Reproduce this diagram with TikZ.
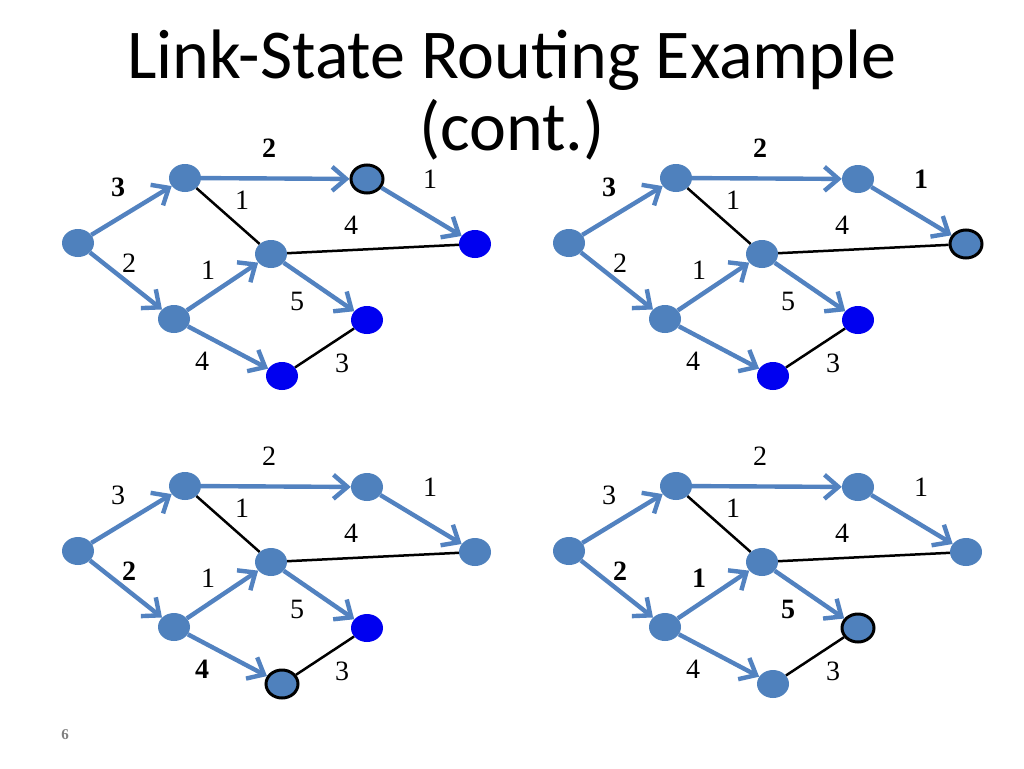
\documentclass[tikz,border=0pt]{standalone}
\usepackage{fontspec}
\usetikzlibrary{shapes.geometric,arrows.meta}
\newfontfamily\titlefont{Carlito}
\newfontfamily\wfont{Liberation Serif}
\definecolor{nodeblue}{HTML}{4F81BD}
\definecolor{arrowblue}{HTML}{5282C0}
\definecolor{pureblue}{HTML}{0000F0}
\begin{document}
\begin{tikzpicture}[x=1pt,y=-1pt,
  pt/.style={ellipse, minimum width=32pt, minimum height=28pt, inner sep=0pt, fill=nodeblue},
  hl/.style={pt, draw=black, line width=3pt},
  bl/.style={pt, fill=pureblue},
  arr/.style={draw=arrowblue, line width=4.4pt, -{Straight Barb[length=14pt, width=24pt]}},
  lk/.style={draw=black, line width=2.5pt},
  wt/.style={font=\wfont\fontsize{28}{28}\selectfont, inner sep=0pt},
  bw/.style={font=\wfont\bfseries\fontsize{28}{28}\selectfont, inner sep=0pt},
  sA/.style={pt}, sB/.style={pt}, sC/.style={pt}, sD/.style={pt},
  sE/.style={pt}, sF/.style={pt}, sG/.style={pt}, sH/.style={pt},
  wAB/.style={wt}, wBC/.style={wt}, wCD/.style={wt}, wBE/.style={wt}, wED/.style={wt},
  wAF/.style={wt}, wFE/.style={wt}, wEG/.style={wt}, wFH/.style={wt}, wHG/.style={wt}]
\useasboundingbox (0,0) rectangle (1024,768);
\fill[white] (0,0) rectangle (1024,768);

\newcommand\lsgraph[1]{%
  \node[sA] (#1A) at (78,243) {};
  \node[sB] (#1B) at (185,178) {};
  \node[sC] (#1C) at (367,179) {};
  \node[sD] (#1D) at (475,244) {};
  \node[sE] (#1E) at (271,254) {};
  \node[sF] (#1F) at (174,319) {};
  \node[sG] (#1G) at (367,320) {};
  \node[sH] (#1H) at (282,376) {};
  \draw[lk] (#1B) -- (#1E);
  \draw[lk] (#1E) -- (#1D);
  \draw[lk] (#1H) -- (#1G);
  \draw[arr] (#1A) -- (#1B);
  \draw[arr] (#1A) -- (#1F);
  \draw[arr] (#1B) -- (#1C);
  \draw[arr] (#1C) -- (#1D);
  \draw[arr] (#1F) -- (#1E);
  \draw[arr] (#1E) -- (#1G);
  \draw[arr] (#1F) -- (#1H);
  \node[wAB] (#1lAB) at (118,187) {3};
  \node[wBC] (#1lBC) at (269,148) {2};
  \node[wCD] (#1lCD) at (430,179) {1};
  \node[wBE] (#1lBE) at (242,200) {1};
  \node[wED] (#1lED) at (351,225) {4};
  \node[wAF] (#1lAF) at (129,263) {2};
  \node[wFE] (#1lFE) at (208,270) {1};
  \node[wEG] (#1lEG) at (297,301) {5};
  \node[wFH] (#1lFH) at (202,361) {4};
  \node[wHG] (#1lHG) at (342,363) {3};
}

\node[font=\titlefont\fontsize{70}{70}\selectfont, anchor=base, inner sep=0pt] (title1) at (512,78) {Link-State Routing Example};
\node[font=\titlefont\fontsize{70}{70}\selectfont, anchor=base, inner sep=0pt] (title2) at (512,150) {(cont.)};

\begin{scope}[sC/.style={hl}, sD/.style={bl}, sG/.style={bl}, sH/.style={bl},
  wAB/.style={bw}, wBC/.style={bw}]
  \lsgraph{p}
\end{scope}

\begin{scope}[shift={(491,0)}, sD/.style={hl}, sG/.style={bl}, sH/.style={bl},
  wAB/.style={bw}, wBC/.style={bw}, wCD/.style={bw}]
  \lsgraph{q}
\end{scope}

\begin{scope}[shift={(0,308)}, sH/.style={hl}, sG/.style={bl},
  wAF/.style={bw}, wFH/.style={bw}]
  \lsgraph{r}
\end{scope}

\begin{scope}[shift={(491,308)}, sG/.style={hl},
  wAF/.style={bw}, wFE/.style={bw}, wEG/.style={bw}]
  \lsgraph{s}
\end{scope}

\node[font=\wfont\bfseries\fontsize{15}{15}\selectfont, text=gray, inner sep=0pt] (pagenum) at (65,735) {6};
\end{tikzpicture}
\end{document}
